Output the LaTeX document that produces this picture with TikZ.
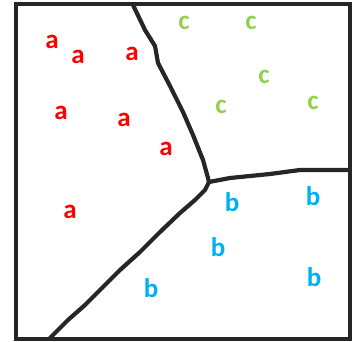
\documentclass[tikz,border=0pt]{standalone}
\usepackage{fontspec}
\setmainfont{Carlito}
\usetikzlibrary{positioning}

\definecolor{clsred}{RGB}{255,0,0}
\definecolor{clsgreen}{RGB}{146,208,80}
\definecolor{clsblue}{RGB}{0,176,240}
\definecolor{edgegray}{RGB}{38,38,38}

\tikzset{
    pointa/.style={text=clsred, font=\bfseries\fontsize{27}{27}\selectfont, inner sep=0pt},
    pointb/.style={text=clsblue, font=\bfseries\fontsize{27}{27}\selectfont, inner sep=0pt},
    pointc/.style={text=clsgreen, font=\bfseries\fontsize{27}{27}\selectfont, inner sep=0pt},
    border/.style={draw=edgegray, line width=4.2pt, line join=round, line cap=round}
}

\begin{document}
\begin{tikzpicture}[x=1pt, y=-1pt]
    \useasboundingbox (0,0) rectangle (354,342);

    % frame
    \draw[draw=edgegray, line width=4pt] (15.5,4.5) rectangle (350,339);

    % decision borders
    \coordinate (junction) at (209,182);
    \coordinate (topend) at (133,5);
    \coordinate (rightend) at (347,170);
    \coordinate (bottomend) at (50,338);

    \draw[border] (junction) -- (208,178) -- (203,160) -- (193,135) -- (183,112)
        -- (170,86) -- (158,63) -- (155,46) -- (145,30) -- (topend);
    \draw[border] (junction) -- (230,178) -- (270,174) -- (300,170) -- (rightend);
    \draw[border] (junction) -- (205,190) -- (195,200) -- (180,213) -- (160,232)
        -- (140,252) -- (120,270) -- (100,290) -- (85,305) -- (68,320) -- (bottomend);

    % class a
    \node[pointa] (a1) at (52,42) {a};
    \node[pointa] (a2) at (78,57) {a};
    \node[pointa] (a3) at (132,54) {a};
    \node[pointa] (a4) at (61,113) {a};
    \node[pointa] (a5) at (124,120) {a};
    \node[pointa] (a6) at (166,149) {a};
    \node[pointa] (a7) at (70,212) {a};

    % class c
    \node[pointc] (c1) at (184,23) {c};
    \node[pointc] (c2) at (251,23) {c};
    \node[pointc] (c3) at (264,77) {c};
    \node[pointc] (c4) at (221,107) {c};
    \node[pointc] (c5) at (313,103) {c};

    % class b
    \node[pointb] (b1) at (232,202) {b};
    \node[pointb] (b2) at (313,196) {b};
    \node[pointb] (b3) at (218,247) {b};
    \node[pointb] (b4) at (151,288) {b};
    \node[pointb] (b5) at (314,277) {b};
\end{tikzpicture}
\end{document}
